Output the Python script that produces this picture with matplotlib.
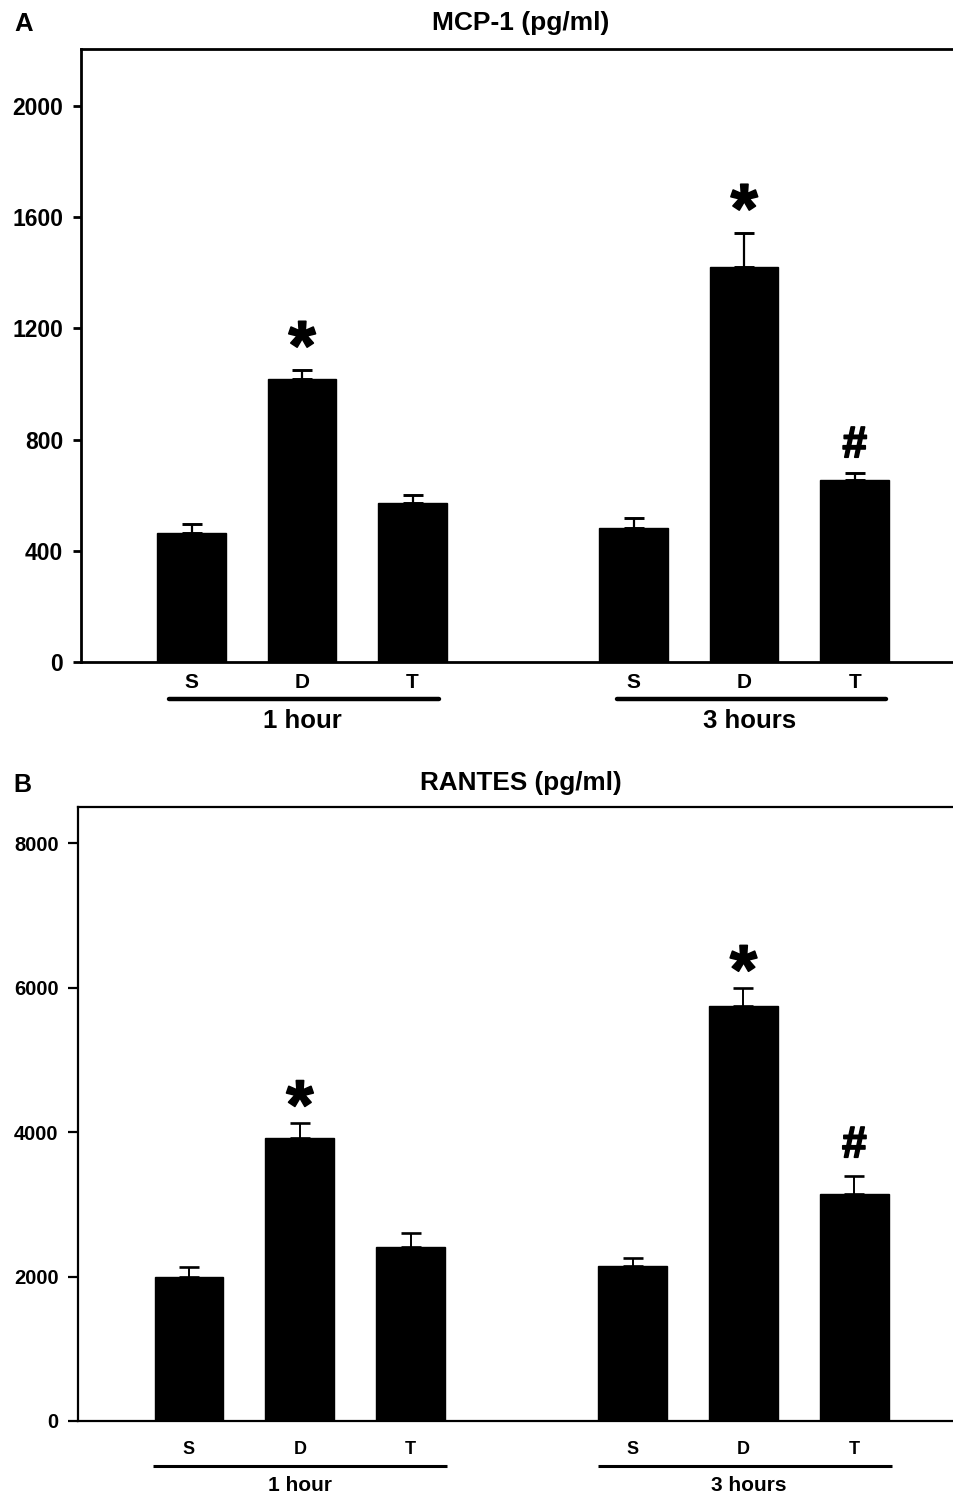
import matplotlib
matplotlib.use("Agg")
import matplotlib.pyplot as plt
import matplotlib.transforms as mtransforms
import matplotlib.patheffects as pe

plt.rcParams['font.family'] = ['Liberation Sans', 'DejaVu Sans']
plt.rcParams['font.weight'] = 'bold'

# ---- data ----
treatments = ["S", "D", "T", "S", "D", "T"]
timepoints = ["1 hour", "3 hours"]
positions = [0, 1, 2, 4, 5, 6]
group_centers = [1.0, 5.05]

mcp1_mean = [463, 1018, 573, 483, 1421, 655]
mcp1_sem = [32, 32, 28, 34, 122, 24]
rantes_mean = [2000, 3916, 2416, 2148, 5746, 3141]
rantes_sem = [130, 207, 189, 116, 249, 249]
marks = ["", "*", "", "", "*", "#"]

mcp1_ticks = [0, 400, 800, 1200, 1600, 2000]
rantes_ticks = [0, 2000, 4000, 6000, 8000]

DPI = 100
fig = plt.figure(figsize=(9.54, 14.94), dpi=DPI)


def px(v):
    # pixels -> points
    return v * 72.0 / DPI


def draw_panel(ax, mean, sem, ticks, ylim, st):
    ax.bar(positions, mean, width=0.62, color="black", edgecolor="black", zorder=3)
    ax.errorbar(positions, mean, yerr=[[0] * len(sem), sem], fmt="none",
                ecolor="black", elinewidth=st["elw"], capsize=7.5,
                capthick=st["elw"] + 0.5, zorder=2)
    ax.set_ylim(*ylim)
    ax.set_xlim(-1.0, 6.88)
    ax.set_yticks(ticks)
    ax.set_xticks([])
    ax.tick_params(axis="y", direction="out", length=st["tlen"], width=st["lw"],
                   pad=7, labelsize=st["tsize"])
    for lab in ax.get_yticklabels():
        lab.set_fontweight("bold")
    ax.spines["right"].set_visible(False)
    for s in ["left", "top", "bottom"]:
        ax.spines[s].set_linewidth(st["lw"])

    # significance marks (slightly thickened like the print)
    thick = [pe.withStroke(linewidth=1.2, foreground="black")]
    for x, m, s, mk in zip(positions, mean, sem, marks):
        if mk == "*":
            ax.annotate("*", xy=(x, m + s), xytext=(0, px(st["star_off"])),
                        textcoords="offset points", ha="center", va="baseline",
                        fontsize=st["star_size"], fontweight="bold",
                        path_effects=thick)
        elif mk == "#":
            ax.annotate("#", xy=(x, m + s), xytext=(0, px(st["hash_off"])),
                        textcoords="offset points", ha="center", va="baseline",
                        fontsize=st["hash_size"], fontweight="bold",
                        path_effects=thick)

    # category labels under axis
    for x, t in zip(positions, treatments):
        ax.annotate(t, xy=(x, 0), xycoords=("data", "axes fraction"),
                    xytext=(0, -px(st["cat_base"])), textcoords="offset points",
                    ha="center", va="baseline", fontsize=st["cat_size"],
                    annotation_clip=False)

    # group lines and labels
    tr = mtransforms.offset_copy(ax.get_xaxis_transform(), fig=fig,
                                 y=-px(st["line_y"]), units="points")
    for (x0, x1), gc, name in zip(st["spans"], group_centers, timepoints):
        ax.plot([x0, x1], [0, 0], color="black", lw=st["glw"], transform=tr,
                clip_on=False, solid_capstyle=st["cap"])
        ax.annotate(name, xy=(gc, 0), xycoords=("data", "axes fraction"),
                    xytext=(0, -px(st["grp_base"])), textcoords="offset points",
                    ha="center", va="baseline", fontsize=st["grp_size"],
                    annotation_clip=False)


H = 1494.0
W = 954.0

# panel A
axA = fig.add_axes([81 / W, 1 - 662 / H, (952 - 81) / W, (662 - 49) / H])
stA = dict(lw=2.0, elw=1.6, tlen=5.8, tsize=16.5, star_off=1, star_size=50,
           hash_off=16, hash_size=32, cat_base=26, cat_size=15, line_y=37,
           glw=3.2, cap="round", grp_base=66, grp_size=18.5,
           spans=[(-0.2, 2.24), (3.85, 6.28)])
draw_panel(axA, mcp1_mean, mcp1_sem, mcp1_ticks, (0, 2205), stA)

# panel B
axB = fig.add_axes([78 / W, 1 - 1421 / H, (952 - 78) / W, (1421 - 807) / H])
stB = dict(lw=1.6, elw=1.4, tlen=7, tsize=14.5, star_off=-5, star_size=50,
           hash_off=19, hash_size=32, cat_base=33, cat_size=13, line_y=45,
           glw=2.2, cap="butt", grp_base=70, grp_size=15,
           spans=[(-0.32, 2.33), (3.69, 6.34)])
draw_panel(axB, rantes_mean, rantes_sem, rantes_ticks, (0, 8505), stB)

# titles and panel letters
fig.text(521 / W, 1 - 30 / H, "MCP-1 (pg/ml)", ha="center", va="baseline", fontsize=19)
fig.text(521 / W, 1 - 790 / H, "RANTES (pg/ml)", ha="center", va="baseline", fontsize=18.8)
fig.text(14 / W, 1 - 31 / H, "A", ha="left", va="baseline", fontsize=18.5)
fig.text(13 / W, 1 - 792 / H, "B", ha="left", va="baseline", fontsize=18)

fig.savefig("out.png", dpi=DPI)
